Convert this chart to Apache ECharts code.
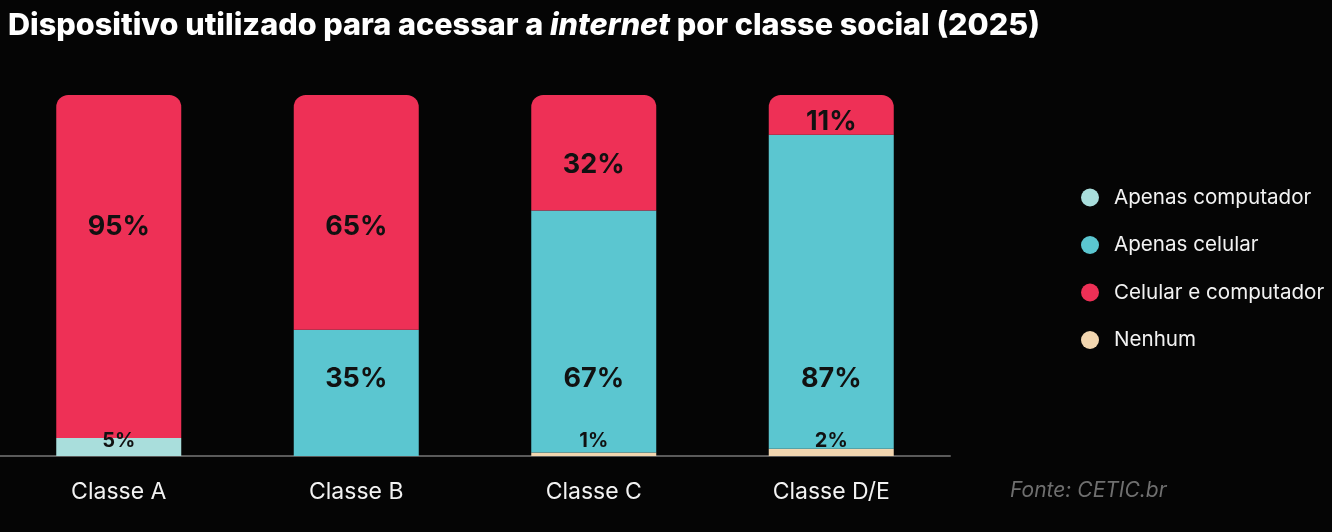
<!DOCTYPE html>
<html>
<head>
    <meta charset="utf-8">
    <title>Dispositivo por classe social</title>
    <script src="https://cdn.jsdelivr.net/npm/echarts@6/dist/echarts.min.js"></script>
    <style>
        html, body { margin: 0; padding: 0; background: #050505; }
        #main { width: 1332px; height: 532px; }
    </style>
</head>
<body>
    <div id="main"></div>
<script type="text/javascript">
    // dados (%)
    var classes = ['Classe A', 'Classe B', 'Classe C', 'Classe D/E'];
    var nenhum = [null, null, 1, 2];
    var apenasComputador = [5, null, null, null];
    var apenasCelular = [null, 35, 67, 87];
    var celularEComputador = [95, 65, 32, 11];

    var FONT = 'Inter, "Noto Sans", sans-serif';

    function pct(p) {
        return p.value == null ? '' : p.value + '%';
    }

    // deslocamento dos rótulos grandes (como na arte original)
    var redShift = [-40, 15, 12, 7];
    var tealShift = [0, -2, 2, 6];

    var chart = echarts.init(document.getElementById('main'));
    chart.setOption({
        backgroundColor: '#050505',
        animation: false,
        title: {
            text: '{b|Dispositivo utilizado para acessar a }{i|internet}{b| por classe social (2025)}',
            left: 3,
            top: 5,
            textStyle: {
                rich: {
                    b: { color: '#fff', fontSize: 30.6, fontWeight: 800, fontFamily: FONT },
                    i: { color: '#fff', fontSize: 30.6, fontWeight: 800, fontStyle: 'italic', fontFamily: FONT }
                }
            }
        },
        graphic: [{
            type: 'text',
            left: 1010,
            top: 480,
            style: {
                text: 'Fonte: CETIC.br',
                fill: '#6f6f6f',
                font: 'italic 21px ' + FONT
            }
        }],
        legend: {
            orient: 'vertical',
            left: 1076,
            top: 182,
            icon: 'circle',
            itemWidth: 18,
            itemHeight: 18,
            itemGap: 26.5,
            data: ['Apenas computador', 'Apenas celular', 'Celular e computador', 'Nenhum'],
            textStyle: { color: '#f2f2f2', fontSize: 20.6, fontFamily: FONT, padding: [0, 0, 0, 10] }
        },
        grid: { left: 0, right: 382, top: 95, bottom: 76 },
        xAxis: {
            type: 'category',
            data: classes,
            axisTick: { show: false },
            axisLine: { lineStyle: { color: '#5a5a5a', width: 2 } },
            axisLabel: { color: '#f2f2f2', fontSize: 23, margin: 25, fontFamily: FONT }
        },
        yAxis: {
            type: 'value',
            min: 0,
            max: 100,
            show: false,
            splitLine: { show: false }
        },
        series: [{
            name: 'Nenhum',
            type: 'bar',
            stack: 'total',
            barWidth: 125,
            itemStyle: { color: '#f2d6b0' },
            label: {
                show: true, position: 'insideBottom', distance: 5, formatter: pct,
                color: '#111', fontSize: 20, fontWeight: 'bold', fontFamily: FONT
            },
            data: nenhum
        }, {
            name: 'Apenas computador',
            type: 'bar',
            stack: 'total',
            barWidth: 125,
            itemStyle: { color: '#a9dedc' },
            label: {
                show: true, position: 'insideBottom', distance: 5, formatter: pct,
                color: '#111', fontSize: 20, fontWeight: 'bold', fontFamily: FONT
            },
            data: apenasComputador
        }, {
            name: 'Apenas celular',
            type: 'bar',
            stack: 'total',
            barWidth: 125,
            itemStyle: { color: '#5bc6d0' },
            label: {
                show: true, position: 'insideBottom', distance: 62, formatter: pct,
                color: '#111', fontSize: 27, fontWeight: 'bold', fontFamily: FONT
            },
            data: apenasCelular.map(function (v, i) {
                return { value: v, label: { offset: [0, tealShift[i]] } };
            })
        }, {
            name: 'Celular e computador',
            type: 'bar',
            stack: 'total',
            barWidth: 125,
            itemStyle: { color: '#ee3056', borderRadius: [12, 12, 0, 0] },
            label: {
                show: true, position: 'inside', formatter: pct,
                color: '#111', fontSize: 27, fontWeight: 'bold', fontFamily: FONT
            },
            data: celularEComputador.map(function (v, i) {
                return { value: v, label: { offset: [0, redShift[i]] } };
            })
        }]
    });
</script>
</body>
</html>
